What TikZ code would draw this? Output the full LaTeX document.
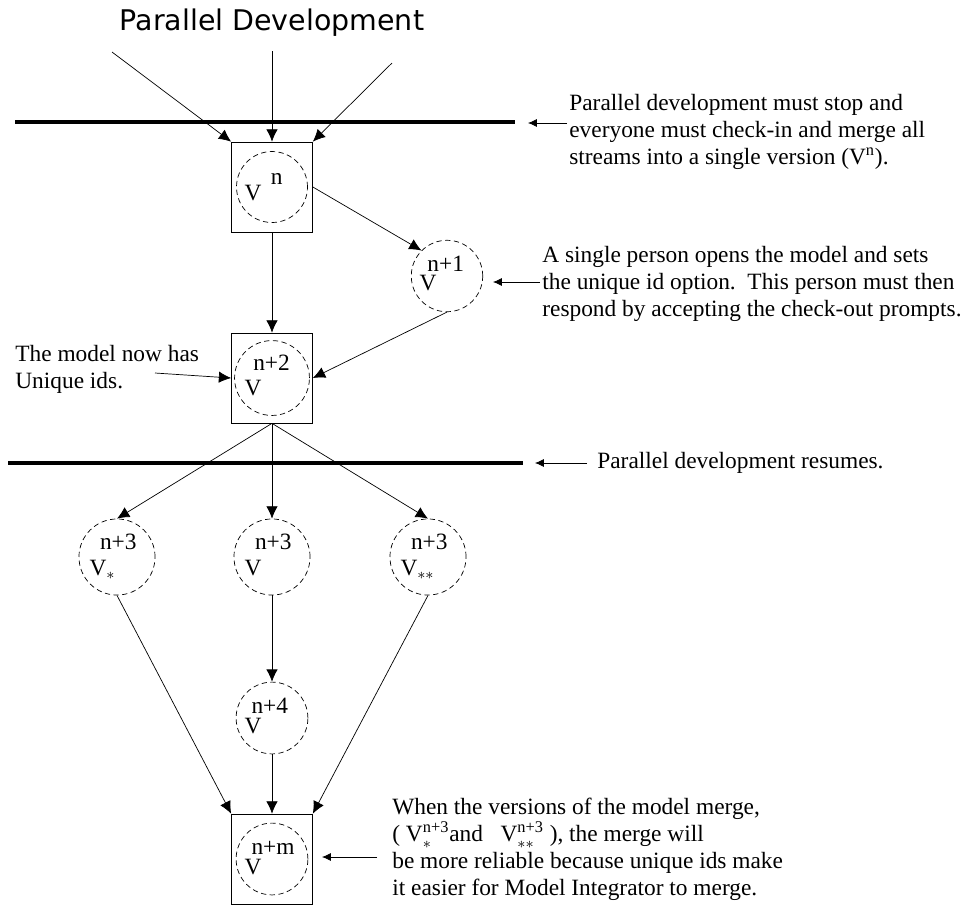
\documentclass[tikz,border=0pt]{standalone}
\usepackage{amsmath}
\usepackage{fontspec}
\setmainfont{Liberation Serif}
\newfontfamily\titlefont{DejaVu Sans}
\usetikzlibrary{arrows,arrows.meta,positioning}
\tikzset{
    verbox/.style = {draw, rectangle, 
        minimum width=1.62cm, 
        minimum height=1.8cm},
    ver/.style = {draw, circle, densely dashed, minimum size=1.42cm, inner sep=0pt,
        text width=1.1cm, align=left, font=\fontsize{13.3}{15}\selectfont},
    arrow/.style = {draw, -{Latex[length=7pt,width=6.5pt]}},
    pointer/.style = {draw, -{Latex[length=5pt,width=4.5pt]}},
    bar/.style = {draw, line width=2.8pt},
    note/.style = {align=left, inner sep=0pt, font=\fontsize{13.3}{15.4}\selectfont}
}
\newcommand{\vlab}[4]{\begin{tabular}{@{}l@{}}\hspace{#3}#1\\[#4]V$_{#2}$\end{tabular}}

\begin{document}
\begin{tikzpicture}[x=0.02cm, y=-0.02cm]
        \useasboundingbox (0,0) rectangle (963,904);
        \node [font=\titlefont\fontsize{16.2}{19}\selectfont, anchor=base] (title) at (272,30) {Parallel Development};
        \coordinate (in1) at (112,52);
        \coordinate (in2) at (272,51);
        \coordinate (in3) at (392,63);
        \coordinate (bar1l) at (15,122);
        \coordinate (bar1r) at (515,122);
        \draw [bar] (bar1l) -- (bar1r);
        \node [verbox] (bn) at (272,187) {};
        \node [ver] (vn) at (272,187) {\vlab{n}{}{15pt}{-6pt}};
        \draw [arrow] (in1) -- (bn.north west);
        \draw [arrow] (in2) -- (bn.north);
        \draw [arrow] (in3) -- (bn.north east);
        \node [note, anchor=north west] (note1) at (569,94) {Parallel development must stop and\\everyone must check-in and merge all\\streams into a single version (V$^{\text{n}}$).};
        \coordinate (t1) at (567,123);
        \coordinate (h1) at (528,123);
        \draw [pointer] (t1) -- (h1);
        \node [ver] (v1) at (447,276) {\vlab{n+1}{}{4.5pt}{-4pt}};
        \draw [arrow] (bn.east) -- (v1.135);
        \node [note, anchor=north west] (note2) at (542,246) {A single person opens the model and sets\\the unique id option.\ \ This person must then\\respond by accepting the check-out prompts.};
        \coordinate (t2) at (540,282);
        \coordinate (h2) at (493,282);
        \draw [pointer] (t2) -- (h2);
        \node [verbox] (b2) at (272,378) {};
        \node [ver] (v2) at (272,378) {\vlab{n+2}{}{5pt}{-1pt}};
        \draw [arrow] (bn.south) -- (b2.north);
        \draw [arrow] (v1.south) -- (b2.east);
        \node [note, anchor=north west] (note4) at (15,345) {The model now has\\Unique ids.};
        \coordinate (t4) at (155,373);
        \draw [arrow] (t4) -- (b2.west);
        \coordinate (bar2l) at (8,463);
        \coordinate (bar2r) at (523,463);
        \draw [bar] (bar2l) -- (bar2r);
        \node [note, anchor=west] (note3) at (597,463) {Parallel development resumes.};
        \coordinate (t3) at (587,463);
        \coordinate (h3) at (535,463);
        \draw [pointer] (t3) -- (h3);
        \node [ver] (v3a) at (117,557) {\vlab{n+3}{*}{6pt}{0pt}};
        \node [ver] (v3b) at (272,557) {\vlab{n+3}{}{6pt}{0pt}};
        \node [ver] (v3c) at (428,557) {\vlab{n+3}{**}{6pt}{0pt}};
        \draw [arrow] (b2.south) -- (v3a.north);
        \draw [arrow] (b2.south) -- (v3b.north);
        \draw [arrow] (b2.south) -- (v3c.north);
        \node [ver] (v4) at (272,718) {\vlab{n+4}{}{4pt}{-3.5pt}};
        \draw [arrow] (v3b) -- (v4);
        \node [verbox] (bm) at (272,859) {};
        \node [ver] (vm) at (272,859) {\vlab{n+m}{}{4pt}{-3.5pt}};
        \draw [arrow] (v3a.south) -- (bm.north west);
        \draw [arrow] (v4) -- (bm.north);
        \draw [arrow] (v3c.south) -- (bm.north east);
        \node [note, anchor=north west] (note5) at (392,798) {When the versions of the model merge,\\( V$_*^{\text{n+3}}$and\ \ \ V$_{**}^{\text{n+3}}$ ), the merge will\\be more reliable because unique ids make\\it easier for Model Integrator to merge.};
        \coordinate (t5) at (377,857);
        \coordinate (h5) at (322,857);
        \draw [pointer] (t5) -- (h5);
    \end{tikzpicture}
\end{document}
